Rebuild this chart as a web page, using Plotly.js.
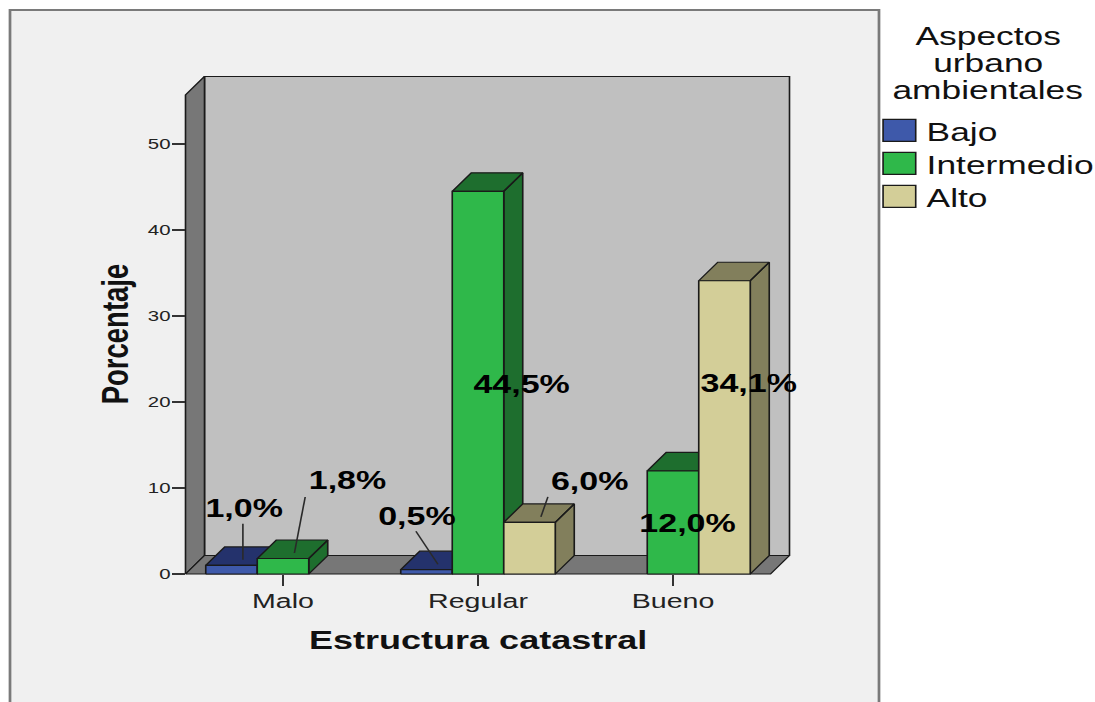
<!DOCTYPE html>
<html>
<head>
<meta charset="utf-8">
<script src="https://cdn.plot.ly/plotly-3.0.1.min.js"></script>
<style>
html,body{margin:0;padding:0;background:#ffffff;overflow:hidden;width:1095px;height:702px;}
#chart{width:805px;height:702px;transform:scaleX(1.360248);transform-origin:0 0;}
</style>
</head>
<body>
<div id="chart"></div>
<script>
// ---------------- data ----------------
const categories = ['Malo', 'Regular', 'Bueno'];
const seriesNames = ['Bajo', 'Intermedio', 'Alto'];
const bajo = [1.0, 0.5, null];
const intermedio = [1.8, 44.5, 12.0];
const alto = [null, 6.0, 34.1];
const yTickValues = [0, 10, 20, 30, 40, 50];
const legendTitleLines = ['Aspectos', 'urbano', 'ambientales'];
const xAxisTitle = 'Estructura catastral';
const yAxisTitle = 'Porcentaje';

// ---------------- style / geometry ----------------
const series = [bajo, intermedio, alto];
const frontColors = ['#3e59aa', '#2fb84a', '#d3ce98'];
const darkColors = ['#24326c', '#1e6e2e', '#827f5c'];
const outline = '#1a1a1a';
const FONT = 'Liberation Sans, Arial, sans-serif';

const W = 805, H = 702;
const S = 1095 / W;                 // horizontal stretch applied by CSS
const M = {l: 118, r: 220, t: 74, b: 108, autoexpand: false};
const pw = W - M.l - M.r, ph = H - M.t - M.b;
const PXU = 195 / S;                // px per category unit
const PYU = 8.6;                    // px per percent
const DX = 19 / 195, DY = 18.5 / 8.6;   // 3D depth in axis units
const BW = 51.5 / 195;              // bar width
const WALL_TOP = 55.7;
const frontLeftPx = 185.5 / S - M.l;
const zeroPx = 574 - M.t;
const xr0 = -0.5 - frontLeftPx / PXU, xr1 = xr0 + pw / PXU;
const yr1 = zeroPx / PYU, yr0 = yr1 - ph / PYU;
const LEGEND_SPACING = 33;

// label offsets in reference px, [series][category]
const labelOffsets = [
  [[12.5, -57.4], [-10, -54], null],
  [[64.5, -78.5], [43, 192.7], [15, 52]],
  [null, [59.5, -41.4], [24.5, 102]]
];
const leaderOffsets = [
  [[0, -36], [-22, -33], null],
  [[10.8, -56], null, null],
  [null, [7, -20], null]
];

function fmt(v) { return v.toFixed(1).replace('.', ',') + '%'; }

const traces = [];
function poly(xs, ys, fill, name, legend) {
  return {type: 'scatter', mode: 'lines', x: xs, y: ys, fill: 'toself', fillcolor: fill,
    line: {color: outline, width: 1.2}, hoverinfo: 'skip', name: name || '', showlegend: !!legend};
}
// walls
const L0 = -0.5, R0 = categories.length - 0.5;
traces.push(poly([L0 + DX, R0 + DX, R0 + DX, L0 + DX, L0 + DX], [DY, DY, WALL_TOP + DY, WALL_TOP + DY, DY], '#c0c0c0'));
traces.push(poly([L0, L0 + DX, L0 + DX, L0, L0], [0, DY, WALL_TOP + DY, WALL_TOP, 0], '#777777'));
traces.push(poly([L0, R0, R0 + DX, L0 + DX, L0], [0, 0, DY, DY, 0], '#777777'));

// bars
series.forEach(function (vals, s) {
  const dx = [], dy = [], fx = [], fy = [];
  vals.forEach(function (v, c) {
    if (v === null) return;
    const xc = c + (s - 1) * BW, x0 = xc - BW / 2, x1 = xc + BW / 2;
    dx.push(x1, x1 + DX, x1 + DX, x1, x1, null);          // side
    dy.push(0, DY, v + DY, v, 0, null);
    dx.push(x0, x1, x1 + DX, x0 + DX, x0, null);          // top
    dy.push(v, v, v + DY, v + DY, v, null);
    fx.push(x0, x1, x1, x0, x0, null);                    // front
    fy.push(0, 0, v, v, 0, null);
  });
  traces.push(poly(dx, dy, darkColors[s]));
  traces.push(poly(fx, fy, frontColors[s], seriesNames[s], true));
});

// leader lines
const lx = [], ly = [];
series.forEach(function (vals, s) {
  vals.forEach(function (v, c) {
    const o = leaderOffsets[s][c];
    if (v === null || !o) return;
    const tx = c + (s - 1) * BW + 0.6 * DX, ty = v + 0.3 * DY;
    lx.push(tx + o[0] / 195, tx, null);
    ly.push(ty - o[1] / PYU, ty, null);
  });
});
traces.push({type: 'scatter', mode: 'lines', x: lx, y: ly, line: {color: '#2a2a2a', width: 1.2},
  hoverinfo: 'skip', showlegend: false});

// annotations
const annotations = [];
series.forEach(function (vals, s) {
  vals.forEach(function (v, c) {
    const o = labelOffsets[s][c];
    if (v === null || !o) return;
    annotations.push({x: c + (s - 1) * BW, y: v, xref: 'x', yref: 'y', text: fmt(v), showarrow: false,
      xshift: o[0] / S, yshift: -o[1], xanchor: 'center', yanchor: 'middle',
      font: {family: FONT, size: 25, weight: 'bold', color: '#000000'}});
  });
});
const legendCx = (988 / S - M.l) / pw;
const titleYs = [35.5, 62.5, 89.5];
legendTitleLines.forEach(function (t, i) {
  annotations.push({x: legendCx, y: (H - M.b - titleYs[i]) / ph, xref: 'paper', yref: 'paper', text: t,
    showarrow: false, xanchor: 'center', yanchor: 'middle',
    font: {family: FONT, size: 26, color: '#111111'}});
});

const layout = {
  width: W, height: H,
  margin: M,
  paper_bgcolor: '#ffffff',
  plot_bgcolor: 'rgba(0,0,0,0)',
  showlegend: true,
  shapes: [{type: 'rect', xref: 'paper', yref: 'paper', layer: 'below',
    x0: (10 / S - M.l) / pw, x1: (879 / S - M.l) / pw,
    y0: (H - M.b - 712) / ph, y1: (H - M.b - 10) / ph,
    fillcolor: '#f0f0f0', line: {color: '#7a7a7a', width: 2}}],
  xaxis: {range: [xr0, xr1], tickmode: 'array', tickvals: categories.map(function (c, i) { return i; }),
    ticktext: categories, ticks: 'outside', ticklen: 11, tickwidth: 1.3, tickcolor: '#333333',
    ticklabelstandoff: -3,
    showgrid: false, zeroline: false, showline: false, fixedrange: true,
    anchor: 'free', position: (ph - zeroPx) / ph,
    tickfont: {family: FONT, size: 21, color: '#222222'},
    title: {text: xAxisTitle, standoff: 19, font: {family: FONT, size: 26.5, weight: 'bold', color: '#111111'}}},
  yaxis: {range: [yr0, yr1], tickmode: 'array', tickvals: yTickValues, ticks: 'outside', ticklen: 10,
    tickwidth: 1.5, tickcolor: '#333333', ticklabelstandoff: -2,
    showgrid: false, zeroline: false, showline: false, fixedrange: true,
    anchor: 'free', position: frontLeftPx / pw,
    tickfont: {family: FONT, size: 15, color: '#222222'},
    title: {text: yAxisTitle, standoff: 4.5, font: {family: FONT, size: 27.5, weight: 'bold', color: '#111111'}}},
  legend: {x: (641.2 - M.l) / pw, y: (H - M.b - 107) / ph, xanchor: 'left', yanchor: 'top',
    bgcolor: 'rgba(0,0,0,0)', borderwidth: 0, font: {family: FONT, size: 26, color: '#111111'},
    itemclick: false, itemdoubleclick: false},
  annotations: annotations
};

const gd = document.getElementById('chart');
Plotly.newPlot(gd, traces, layout, {displayModeBar: false, staticPlot: true}).then(function () {
  let y0 = null;
  gd.querySelectorAll('.legend .traces').forEach(function (g, i) {
    const r = 'M8,-11h24v22h-24z';
    const f = g.querySelector('.legendfill path');
    const l = g.querySelector('.legendlines path');
    if (f) f.setAttribute('d', r);
    if (l) { l.setAttribute('d', r); l.style.fill = 'none'; }
    const m = /translate\(\s*([-\d.e]+)[\s,]+([-\d.e]+)\s*\)/.exec(g.getAttribute('transform') || '');
    if (m) {
      if (y0 === null) y0 = parseFloat(m[2]);
      g.setAttribute('transform', 'translate(' + m[1] + ',' + (y0 + i * LEGEND_SPACING) + ')');
    }
  });
});
</script>
</body>
</html>
